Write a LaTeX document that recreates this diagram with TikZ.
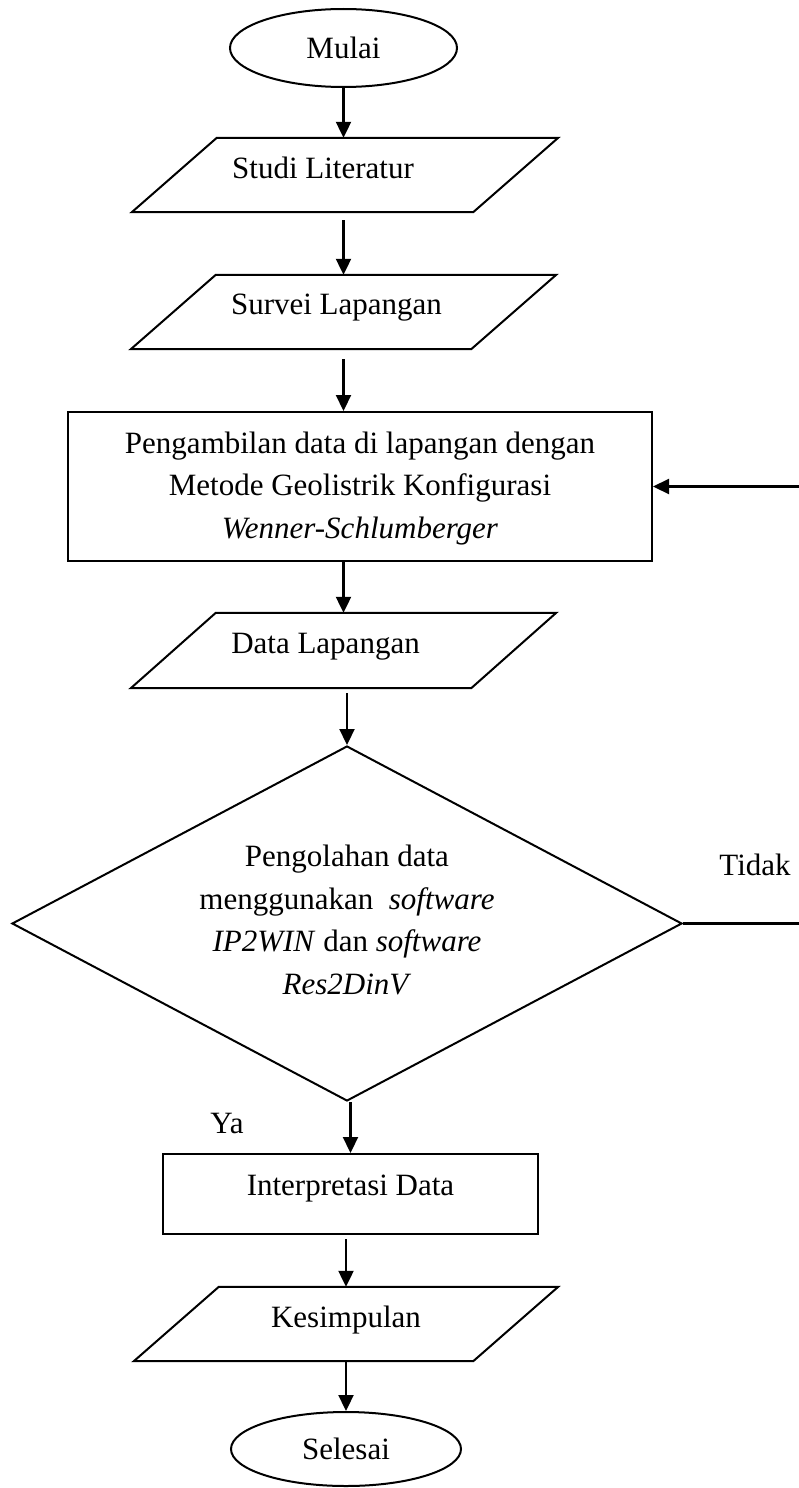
\documentclass[tikz,border=0pt]{standalone}
\usepackage{fontspec}
\setmainfont{Liberation Serif}
\usetikzlibrary{shapes.geometric,arrows.meta}

% parallelogram (input/output) drawn around an invisible body node
\newcommand{\ioshape}[1]{%
  \draw[edge] ([xshift=-85pt]#1.south west) -- (#1.north west)
    -- ([xshift=85pt]#1.north east) -- (#1.south east) -- cycle;}

\tikzset{
  every node/.style={font=\fontsize{31pt}{42.5pt}\selectfont, inner sep=0pt},
  edge/.style={line width=2pt, line join=miter},
  arr/.style={line width=2.2pt, -{Triangle[length=16pt,width=15pt]}},
  terminal/.style={ellipse, draw, line width=2pt},
  iobody/.style={rectangle, minimum height=74pt},
  process/.style={rectangle, draw, line width=2pt},
  decision/.style={diamond, draw, line width=2pt, aspect=1.887,
    minimum width=670pt, minimum height=355pt, align=center},
  txt/.style={anchor=base},
}

\begin{document}
\begin{tikzpicture}[x=1pt, y=-1pt]
\useasboundingbox (0,0) rectangle (798,1488);
\fill[white] (0,0) rectangle (798,1488);

% start
\node[terminal, minimum width=227pt, minimum height=78pt] (mulai) at (343.5,48) {Mulai};

% literature study
\node[iobody, minimum width=256pt] (studi) at (345,175) {};
\ioshape{studi}
\node[txt] (studiT) at (323,178) {Studi Literatur};

% field survey
\node[iobody, minimum width=255pt] (survei) at (343.5,312) {};
\ioshape{survei}
\node[txt] (surveiT) at (336.5,314) {Survei Lapangan};

% data acquisition
\node[process, minimum width=584pt, minimum height=149pt, align=center] (ambil) at (360,486.5)
  {\rule{0pt}{25pt}Pengambilan data di lapangan dengan\\
   Metode Geolistrik Konfigurasi\\
   \textit{Wenner-Schlumberger}};

% field data
\node[iobody, minimum width=255pt, minimum height=75pt] (data) at (343.5,650.5) {};
\ioshape{data}
\node[txt] (dataT) at (325.5,653) {Data Lapangan};

% processing decision
\node[decision] (olah) at (347,923.5)
  {Pengolahan data\\
   menggunakan~ \textit{software}\\
   \textit{IP2WIN} dan \textit{software}\\
   \textit{Res2DinV}\rule[-8pt]{0pt}{8pt}};

% interpretation
\node[process, minimum width=375pt, minimum height=80pt, text height=21pt, text depth=19pt]
  (interp) at (350.5,1194) {Interpretasi Data};

% conclusion
\node[iobody, minimum width=254pt] (kes) at (346,1324) {};
\ioshape{kes}
\node[txt] (kesT) at (346,1327) {Kesimpulan};

% end
\node[terminal, minimum width=230pt, minimum height=74pt] (selesai) at (346,1449) {Selesai};

% branch labels
\node[txt] (tidak) at (755,875) {Tidak};
\node[txt] (ya) at (227,1133) {Ya};

% flow
\draw[arr] (mulai.south) -- (mulai.south |- studi.north);
\draw[arr, shorten <=8pt] (survei.north |- studi.south) -- (survei.north);
\draw[arr, shorten <=10pt] (survei.south) -- (survei.south |- ambil.north);
\draw[arr] (data.north |- ambil.south) -- (data.north);
\draw[arr, shorten <=5pt] (olah.north |- data.south) -- (olah.north);
\draw[arr] (interp.north |- olah.south) -- (interp.north);
\draw[arr, shorten <=4pt] (kes.north |- interp.south) -- (kes.north);
\draw[arr] (kes.south) -- (kes.south |- selesai.north);

% loop back when the result is rejected
\draw[arr] (olah.east) -- ++(118,0) |- (ambil.east);
\end{tikzpicture}
\end{document}
